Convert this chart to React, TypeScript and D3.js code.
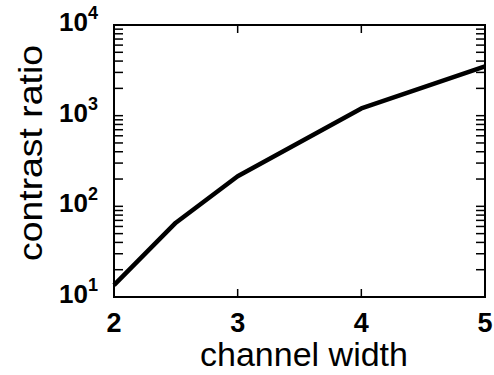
import React from 'react';
import * as d3 from 'd3';

// channel width vs. contrast ratio
const channelWidth = [2, 2.5, 3, 4, 5];
const contrastRatio = [13.5, 66, 215, 1200, 3500];

const xTicks = [2, 3, 4, 5];
const yDecades = [1, 2, 3, 4];

const width = 494;
const height = 375;
const margin = { top: 25, right: 9, bottom: 78, left: 114 };

export default function App() {
  const plotW = width - margin.left - margin.right;
  const plotH = height - margin.top - margin.bottom;

  const x = d3.scaleLinear().domain([2, 5]).range([0, plotW]);
  const y = d3.scaleLog().domain([10, 10000]).range([plotH, 0]);

  const line = d3.line<number>()
    .x((_, i) => x(channelWidth[i]))
    .y(d => y(d));

  // minor ticks 2..9 in each decade plus the decades themselves
  const minor: number[] = [];
  for (let e = 1; e < 4; e++) {
    for (let m = 1; m < 10; m++) minor.push(m * Math.pow(10, e));
  }

  const tickLen = 9;
  const font = 'Liberation Sans, Arial, Helvetica, sans-serif';

  return (
    <svg width={width} height={height} style={{ position: 'absolute', left: 0, top: 0, background: '#fff' }}>
      <g transform={`translate(${margin.left},${margin.top})`}>
        {/* y minor ticks, left and right */}
        {minor.map(v => (
          <g key={v}>
            <line x1={0} x2={tickLen} y1={y(v)} y2={y(v)} stroke="#000" strokeWidth={1.5} />
            <line x1={plotW} x2={plotW - tickLen} y1={y(v)} y2={y(v)} stroke="#000" strokeWidth={1.5} />
          </g>
        ))}
        {/* x ticks, bottom and top */}
        {xTicks.slice(1, -1).map(t => (
          <g key={t}>
            <line x1={x(t)} x2={x(t)} y1={plotH} y2={plotH - 8} stroke="#000" strokeWidth={1.5} />
            <line x1={x(t)} x2={x(t)} y1={0} y2={8} stroke="#000" strokeWidth={1.5} />
          </g>
        ))}
        {/* frame */}
        <rect x={0} y={0} width={plotW} height={plotH} fill="none" stroke="#000" strokeWidth={2} />

        {/* data */}
        <path d={line(contrastRatio) || ''} fill="none" stroke="#000" strokeWidth={4.5} strokeLinejoin="round" />

        {/* x tick labels */}
        {xTicks.map(t => (
          <text key={t} x={x(t)} y={plotH + 35} textAnchor="middle"
            fontFamily={font} fontWeight="bold" fontSize={27}>{t}</text>
        ))}

        {/* y tick labels */}
        {yDecades.map(e => (
          <text key={e} x={-16} y={y(Math.pow(10, e)) + 6} textAnchor="end"
            fontFamily={font} fontWeight="bold" fontSize={26}>
            10<tspan dy={-12} fontSize={18}>{e}</tspan>
          </text>
        ))}
      </g>

      {/* axis titles */}
      <text x={304} y={366} textAnchor="middle" fontFamily={font} fontSize={33}
        textLength={208} lengthAdjust="spacingAndGlyphs">channel width</text>
      <text transform="translate(42,153) rotate(-90)" textAnchor="middle" fontFamily={font} fontSize={33}
        textLength={216} lengthAdjust="spacingAndGlyphs">contrast ratio</text>
    </svg>
  );
}
